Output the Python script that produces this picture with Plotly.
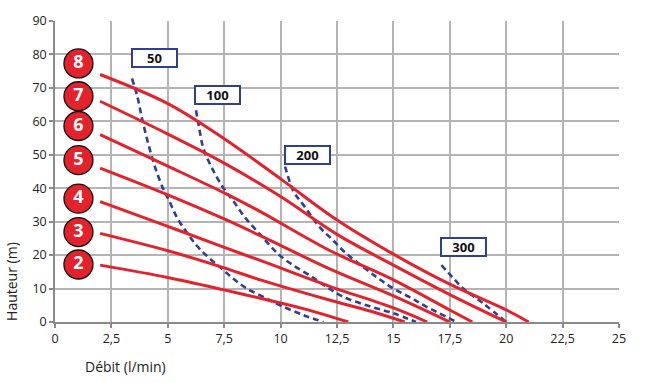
import plotly.graph_objects as go

# ---- data ----
pump_labels = ["2", "3", "4", "5", "6", "7", "8"]
label_y = [17.2, 26.9, 36.9, 48.4, 58.6, 67.5, 77.3]

c2_x = [2, 5, 7.5, 9.1, 11, 13]
c2_y = [17, 13.3, 9.6, 7.1, 4, 0]
c3_x = [2, 5, 7.5, 9.1, 12.2, 14, 15.5]
c3_y = [26.5, 21.3, 16.2, 12.6, 6.5, 3.2, 0]
c4_x = [2, 5, 7.5, 9.1, 12.2, 15, 16.5]
c4_y = [36, 28.6, 22.3, 18.4, 10.6, 4.2, 0]
c5_x = [2, 5, 7.5, 9.1, 12.2, 15, 17.5]
c5_y = [46, 38, 30.8, 25.8, 15.8, 7.8, 0]
c6_x = [2, 5, 7.5, 9.1, 12.2, 15, 17.5, 18.5]
c6_y = [56, 46.6, 38.6, 33, 21.3, 12.6, 3.6, 0]
c7_x = [2, 5, 7.5, 10, 12.5, 15, 17.5, 20]
c7_y = [66, 56.2, 47.5, 37.5, 26.2, 17, 8.2, 0]
c8_x = [2, 5, 7.5, 10, 12.5, 15, 17.5, 20, 21]
c8_y = [74, 65.3, 54.8, 42.8, 30.5, 20.3, 11.3, 3.6, 0]

d50_x = [3.41, 3.64, 3.86, 4.15, 4.45, 4.81, 5.04, 5.41, 5.85, 6.29, 6.8, 7.4, 7.91, 8.5, 9.24, 9.98, 11.0, 11.9]
d50_y = [72.8, 67.7, 60.8, 52.9, 46, 39.6, 36.6, 31.2, 26.7, 22.8, 19.3, 15.9, 12.9, 10, 7.5, 5, 2.1, 0]
d100_x = [6.25, 6.37, 6.58, 6.96, 7.47, 7.91, 8.43, 8.95, 9.54, 9.98, 10.57, 11.3, 12.04, 12.78, 13.8, 15, 16.0]
d100_y = [63.3, 58.8, 51.9, 46, 40, 36.1, 31.2, 27.2, 22.8, 19.8, 16.9, 13.9, 10.5, 7.5, 5, 2.6, 0]
d200_x = [10.2, 10.57, 11.0, 11.75, 12.27, 12.78, 13.2, 14.26, 15.0, 15.7, 16.4, 17.8]
d200_y = [46.5, 39.1, 35.1, 28.2, 24.8, 21.3, 18.9, 13.4, 10, 7.5, 4.8, 0]
d300_x = [17.13, 17.6, 18.1, 19.0, 20.0]
d300_y = [17, 13.5, 10, 5.5, 0]

box_labels = ["50", "100", "200", "300"]
box_x = [4.39, 7.19, 11.21, 18.1]
box_y = [78.8, 67.9, 49.8, 22.3]

x_ticks = [0, 2.5, 5, 7.5, 10, 12.5, 15, 17.5, 20, 22.5, 25]
x_ticktext = ["0", "2,5", "5", "7,5", "10", "12,5", "15", "17,5", "20", "22,5", "25"]
y_ticks = [0, 10, 20, 30, 40, 50, 60, 70, 80, 90]

RED = "#e3222b"
BLUE = "#2f3f94"

fig = go.Figure()

for xs, ys in [(d50_x, d50_y), (d100_x, d100_y), (d200_x, d200_y), (d300_x, d300_y)]:
    fig.add_trace(go.Scatter(x=xs, y=ys, mode="lines",
                             line=dict(color=BLUE, width=2.6, dash="6px,4px", shape="spline"),
                             hoverinfo="skip", showlegend=False))

for xs, ys in [(c2_x, c2_y), (c3_x, c3_y), (c4_x, c4_y), (c5_x, c5_y), (c6_x, c6_y), (c7_x, c7_y), (c8_x, c8_y)]:
    fig.add_trace(go.Scatter(x=xs, y=ys, mode="lines", line=dict(color=RED, width=3, shape="spline"),
                             hoverinfo="skip", showlegend=False))

fig.add_trace(go.Scatter(
    x=[1.04] * len(pump_labels), y=label_y, mode="markers+text",
    text=["<b>%s</b>" % t for t in pump_labels], textposition="middle center",
    textfont=dict(color="white", size=18, family="Open Sans"),
    marker=dict(size=29, color=RED, line=dict(color="#111111", width=1.3)),
    hoverinfo="skip", showlegend=False, cliponaxis=False))

for t, bx, by in zip(box_labels, box_x, box_y):
    fig.add_annotation(x=bx, y=by, xref="x", yref="y", text="<b>%s</b>" % t, showarrow=False,
                       font=dict(size=13, color="#111111", family="Open Sans"),
                       bgcolor="white", bordercolor=BLUE, borderwidth=2, borderpad=0,
                       width=43, height=16)

fig.add_annotation(text="Hauteur (m)", xref="paper", yref="paper", x=-0.077, y=0.135,
                   textangle=-90, showarrow=False, xanchor="center", yanchor="middle",
                   font=dict(size=14, color="#222222", family="Open Sans"))
fig.add_annotation(text="Débit (l/min)", xref="paper", yref="paper", x=0.0504, y=-0.148,
                   showarrow=False, xanchor="left", yanchor="middle",
                   font=dict(size=14, color="#222222", family="Open Sans"))

grid = "#b4b4b4"
fig.update_xaxes(range=[0, 25], tickvals=x_ticks, ticktext=x_ticktext, showgrid=True, gridcolor=grid, gridwidth=1.5,
                 zeroline=False, showline=True, linecolor="#8a8a8a", linewidth=1.5, ticks="outside",
                 ticklen=4, tickcolor="#8a8a8a", tickwidth=1.5,
                 tickfont=dict(size=12.5, color="#222222", family="Open Sans"))
fig.update_yaxes(range=[0, 90], tickvals=y_ticks, showgrid=True, gridcolor=grid, gridwidth=1.5,
                 zeroline=False, showline=True, linecolor="#8a8a8a", linewidth=1.5, ticks="outside",
                 ticklen=4, tickcolor="#8a8a8a", tickwidth=1.5,
                 tickfont=dict(size=12.5, color="#222222", family="Open Sans"))

fig.update_layout(width=651, height=383, margin=dict(l=54.5, r=31.5, t=18, b=61),
                  plot_bgcolor="white", paper_bgcolor="white", showlegend=False)

# remove the page's default body margin so the figure sits at the window's top-left corner
fig.write_html("out.html", config={"displayModeBar": False},
               post_script="document.body.style.margin='0';document.body.style.overflow='hidden';")
